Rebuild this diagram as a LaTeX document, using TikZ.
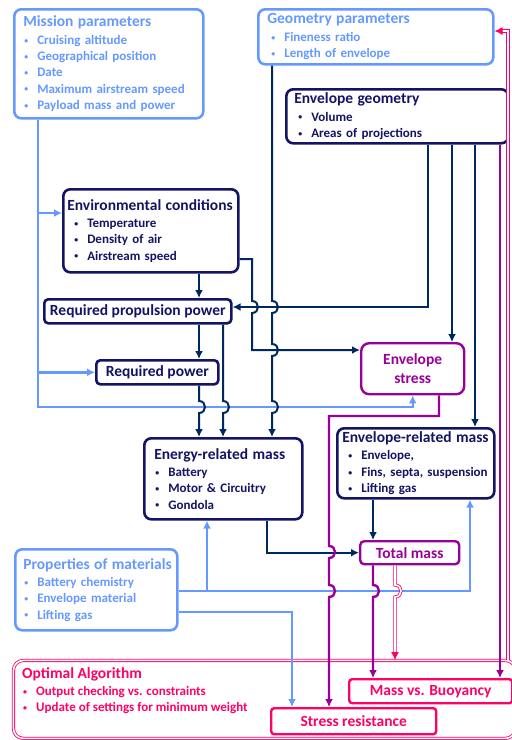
\documentclass[tikz,border=0pt]{standalone}
\usepackage{fontspec}
\setmainfont{Carlito}
\usetikzlibrary{arrows.meta}

\definecolor{lblue}{RGB}{102,153,255}
\definecolor{navy}{RGB}{20,20,100}
\definecolor{dnavy}{RGB}{0,40,96}
\definecolor{purp}{RGB}{153,0,153}
\definecolor{pnk}{RGB}{255,0,102}

\newcommand{\ttl}[1]{\mbox{\fontsize{15.5}{18}\selectfont #1}}
\newcommand{\itm}[2][1pt]{\mbox{\hspace*{#1}\makebox[13pt][l]{\raisebox{1.2pt}{\scalebox{0.6}{\textbullet}}}#2}}

\begin{document}
\begin{tikzpicture}[x=1pt,y=-1pt,
    >={Latex[length=8pt,width=8pt]},
    box/.style={draw, fill=white, line width=2.6pt, rounded corners=7pt, anchor=north west,
        inner sep=0pt, align=left, font=\fontsize{13}{16.3}\selectfont\bfseries},
    lbox/.style={box, draw=lblue, text=lblue},
    nbox/.style={box, draw=navy, text=navy},
    pbox/.style={box, draw=purp, text=purp, line width=2.4pt, align=center},
    kbox/.style={box, draw=pnk, text=pnk, line width=2.4pt, rounded corners=3pt, align=center},
    obox/.style={draw=pnk, line width=0.8pt, double=white, double distance=1.6pt,
        rounded corners=10pt, anchor=north west},
    lbl/.style={lblue, line width=2.4pt},
    nl/.style={dnavy, line width=2pt},
    pl/.style={purp, line width=2.4pt},
    dl/.style={pnk, line width=0.8pt, double=white, double distance=1.6pt},
    hop/.style 2 args={insert path={-- (#1,#2-6) .. controls (#1+8,#2-6) and (#1+8,#2+6) .. (#1,#2+6)}}
]
\useasboundingbox (0,0) rectangle (512,740);

% boxes
\node[lbox, minimum width=189pt, minimum height=109pt, text width=171pt] (mission) at (13,8)
    {\ttl{Mission parameters}\\[1pt]
     \itm{Cruising altitude}\\ \itm{Geographical position}\\ \itm{Date}\\
     \itm{Maximum airstream speed}\\ \itm{Payload mass and power}};
\node[lbox, minimum width=235pt, minimum height=55pt, text width=217pt] (geop) at (257,8)
    {\ttl{Geometry parameters}\\[1pt] \itm[4pt]{Fineness ratio}\\ \itm[4pt]{Length of envelope}};
\node[nbox, minimum width=222pt, minimum height=54pt, text width=206pt] (envg) at (285,88)
    {\ttl{Envelope geometry}\\[1pt] \itm[4pt]{Volume}\\ \itm[4pt]{Areas of projections}};
\node[nbox, minimum width=175pt, minimum height=83pt, text width=167pt] (envc) at (62,188)
    {\ttl{Environmental conditions}\\[1pt] \itm[7pt]{Temperature}\\ \itm[7pt]{Density of air}\\
     \itm[7pt]{Airstream speed}};
\node[nbox, rounded corners=4pt, minimum width=187pt, minimum height=24pt, align=center] (rpp) at (43,298)
    {\ttl{Required propulsion power}};
\node[nbox, rounded corners=4pt, minimum width=122pt, minimum height=24pt, align=center] (rp) at (95,359)
    {\ttl{Required power}};
\node[pbox, rounded corners=8pt, minimum width=103pt, minimum height=51pt] (stress) at (360,342)
    {\ttl{Envelope}\\[2pt] \ttl{stress}};
\node[nbox, minimum width=158pt, minimum height=81pt, text width=138pt] (energy) at (143,437)
    {\ttl{Energy-related mass}\\[1pt] \itm{Battery}\\ \itm{Motor \& Circuitry}\\ \itm{Gondola}};
\node[nbox, minimum width=157pt, minimum height=70pt, text width=147pt] (envm) at (336,427)
    {\ttl{Envelope-related mass}\\[1pt] \itm[6pt]{Envelope,}\\ \itm[6pt]{Fins, septa, suspension}\\
     \itm[6pt]{Lifting gas}};
\node[pbox, rounded corners=4pt, minimum width=99pt, minimum height=23pt] (total) at (359,540)
    {\ttl{Total mass}};
\node[lbox, minimum width=162pt, minimum height=81pt, text width=146pt] (props) at (14,548)
    {\ttl{Properties of materials}\\[1pt] \itm{Battery chemistry}\\ \itm{Envelope material}\\
     \itm{Lifting gas}};
\node[obox, minimum width=502pt, minimum height=78pt] (opt) at (13,660) {};
\node[anchor=north west, inner sep=0pt, align=left, text=pnk,
      font=\fontsize{13}{16.3}\selectfont\bfseries] (optt) at (22,667)
    {\ttl{Optimal Algorithm}\\[1pt] \itm{Output checking vs. constraints}\\
     \itm{Update of settings for minimum weight}};
\node[kbox, minimum width=163pt, minimum height=24pt] (mvb) at (348,678) {\ttl{Mass vs. Buoyancy}};
\node[kbox, minimum width=165pt, minimum height=26pt] (sres) at (270,707) {\ttl{Stress resistance}};

% columns and rows
\coordinate (cM) at (38,0);  \coordinate (cB) at (207,0); \coordinate (cS) at (292,0);
\coordinate (cR) at (470,0); \coordinate (cG) at (272,0); \coordinate (c1) at (428,0);
\coordinate (c2) at (452,0); \coordinate (c3) at (475,0); \coordinate (cV) at (252,0);
\coordinate (cP) at (199,0); \coordinate (cQ) at (223,0); \coordinate (cH) at (267,0);
\coordinate (cT) at (373,0); \coordinate (cU) at (439,0); \coordinate (cW) at (329,0);
\coordinate (cX) at (500,0); \coordinate (cD) at (395,0); \coordinate (cZ) at (508,0);
\coordinate (rE) at (0,213); \coordinate (rL) at (0,407); \coordinate (rQ) at (0,591);
\coordinate (rS) at (0,612); \coordinate (rN) at (0,307); \coordinate (rF) at (0,259);
\coordinate (rT) at (0,350); \coordinate (rU) at (0,416); \coordinate (rZ) at (0,31);

% light blue inputs
\draw[lbl,->] (mission.south -| cM) |- (stress.south |- rL) -- (stress.south);
\draw[lbl,->] (cM |- rE) -- (envc.west |- rE);
\draw[lbl,->] (cM |- rp.west) -- (rp.west);
\draw[lbl,->] (props.east |- rQ) -| (envm.south -| cR);
\draw[lbl,->] (cB |- rQ) -- (energy.south -| cB);
\draw[lbl,->] (props.east |- rS) -| (sres.north -| cS);

% navy flow
\draw[nl,->] (geop.south -| cG) [hop={272}{307}] [hop={272}{350}] [hop={272}{407}] -- (energy.north -| cG);
\draw[nl,->] (envg.south -| c1) |- (rpp.east |- rN);
\draw[nl,->] (envg.south -| c2) -- (stress.north -| c2);
\draw[nl,->] (envg.south -| c3) -- (envm.north -| c3);
\draw[nl,->] (envc.east |- rF) -- (cV |- rF) [hop={252}{307}] -- (cV |- rT) -- (stress.west |- rT);
\draw[nl,->] (envc.south -| cP) -- (rpp.north -| cP);
\draw[nl,->] (rpp.south -| cP) -- (rp.north -| cP);
\draw[nl,->] (rp.south -| cP) [hop={199}{407}] -- (energy.north -| cP);
\draw[nl,->] (rpp.south -| cQ) [hop={223}{407}] -- (energy.north -| cQ);
\draw[nl,->] (energy.south -| cH) |- (total.west);
\draw[nl,->] (envm.south -| cT) -- (total.north -| cT);

% purple checks
\draw[pl,->] (stress.south -| cU) |- (cW |- rU) [hop={329}{552}] [hop={329}{591}] -- (sres.north -| cW);
\draw[pl,->] (total.south -| cT) [hop={373}{591}] -- (mvb.north -| cT);
\draw[pl,->] (envg.south -| cX) -- (mvb.north -| cX);

% feedback
\draw[dl,->] (total.south -| cD) [hop={395}{591}] -- (opt.north -| cD);
\draw[dl,->] (opt.north -| cZ) |- (geop.east |- rZ);
\end{tikzpicture}
\end{document}
